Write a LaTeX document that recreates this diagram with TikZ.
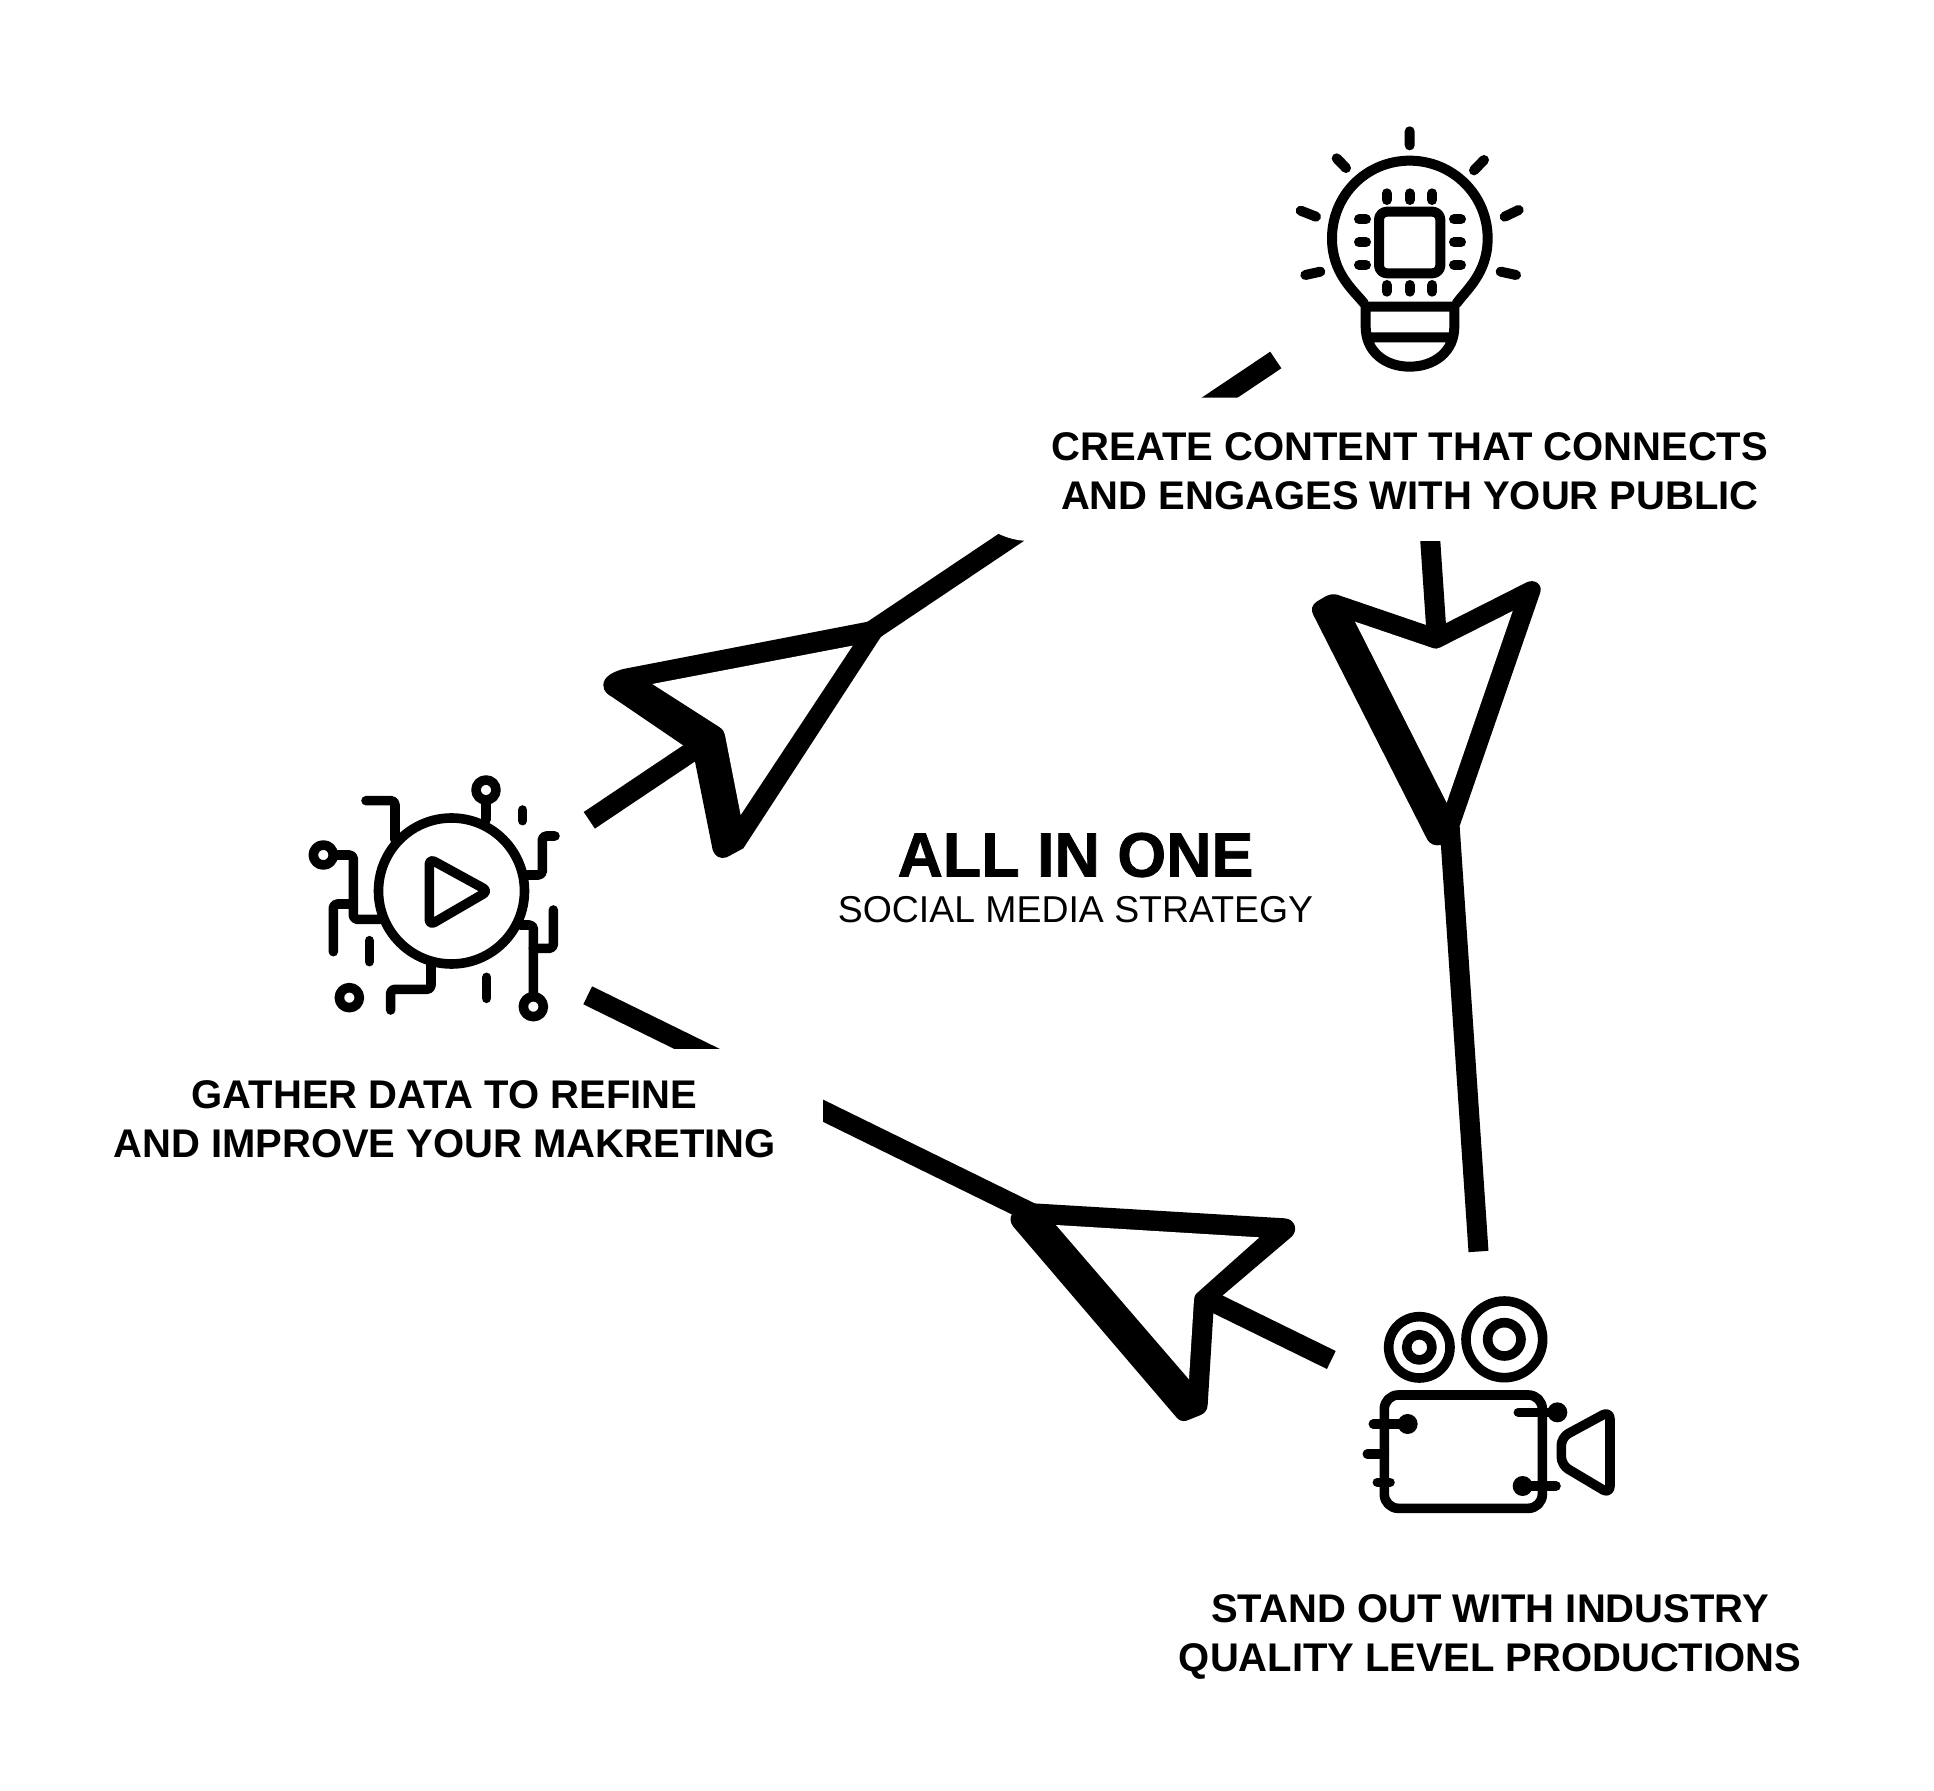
\documentclass[tikz,border=0pt]{standalone}
\usepackage{fontspec}
\setmainfont{Liberation Sans}
\newfontfamily\heavyface[BoldFeatures={FakeBold=1.2}]{Liberation Sans}
\begin{document}
\begin{tikzpicture}[x=0.5pt,y=-0.5pt,
  shaft/.style={line width=10pt,line cap=butt},
  zoomed/.style={shift={#1},scale=1/3},
  icon/.style={line width=4.8pt,line cap=round,line join=round},
  caption/.style={inner sep=0pt,align=center,
     font=\fontsize{20}{24.6}\selectfont\bfseries}]
\useasboundingbox[fill=white] (0,0) rectangle (1934,1791);
% connector ends
\coordinate (dataStart) at (589.3,820.3);
\coordinate (contentEnd) at (1275.8,360);
\coordinate (contentStart) at (1427.5,500);
\coordinate (productionEnd) at (1478.5,1251.5);
\coordinate (productionStart) at (1331.3,1360);
\coordinate (dataEnd) at (587.7,995.3);
% shafts
\draw[shaft] (dataStart) -- (contentEnd);
\draw[shaft] (contentStart) -- (productionEnd);
\draw[shaft] (productionStart) -- (dataEnd);
% arrow head 1
\begin{scope}[zoomed={(580,520)}]
\fill (864,305) -- (130,447) .. controls (100,455) and (70,470) .. (70,495)
  .. controls (70,515) and (85,525) .. (95,530) -- (330,690) -- (345,725) -- (398,990)
  .. controls (405,1010) and (420,1018) .. (440,1012) -- (490,985) -- (905,347) -- cycle;
\fill[white] (818,377) -- (217,492) -- (420,622) .. controls (430,630) and (433,635) .. (435,645) -- (482,885) -- cycle;
\end{scope}
% arrow head 2
\begin{scope}[zoomed={(1290,530)}]
\fill (408,285) -- (150,197) .. controls (130,188) and (115,195) .. (105,200) -- (80,215)
  .. controls (65,225) and (62,240) .. (70,255) -- (410,925) .. controls (420,945) and (435,948) .. (455,945)
  -- (510,885) -- (750,190) .. controls (760,165) and (735,145) .. (710,157) -- (467,280) -- (437,300) -- cycle;
\fill[white] (195,275) -- (430,355) .. controls (437,357) and (443,356) .. (450,353) -- (668,243) -- (470,818) -- cycle;
\end{scope}
% arrow head 3
\begin{scope}[zoomed={(990,1180)}]
\fill (130,70) -- (885,115) .. controls (915,118) and (925,150) .. (905,170) -- (697,347)
  -- (670,400) -- (653,675) .. controls (652,690) and (645,700) .. (630,706) -- (595,720)
  .. controls (575,728) and (565,720) .. (555,707) -- (70,140) .. controls (60,128) and (58,110) .. (68,100) -- cycle;
\fill[white] (198,135) -- (808,172) -- (625,335) .. controls (615,342) and (612,350) .. (612,358) -- (597,598) -- cycle;
\end{scope}
% white panels behind the captions interrupt the connectors
\fill[white,rounded corners=36pt] (958,397.7) rectangle (1860,541);
\fill[white] (66,1048.7) rectangle (823.3,1190);
% captions
\node[caption] (content) at (1410,471.5)
  {CREATE CONTENT THAT CONNECTS\\AND ENGAGES WITH YOUR PUBLIC};
\node[caption] (data) at (444.6,1119.5)
  {GATHER DATA TO REFINE\\AND IMPROVE YOUR MAKRETING};
\node[caption] (production) at (1490,1637)
  {STAND OUT WITH INDUSTRY\\QUALITY LEVEL PRODUCTIONS};
\node[inner sep=0pt,font=\fontsize{31.4}{32}\selectfont\heavyface\bfseries] (title) at (1075.5,855) {ALL IN ONE};
\node[inner sep=0pt,font=\fontsize{18.7}{22}\selectfont] (subtitle) at (1075.5,910) {SOCIAL MEDIA STRATEGY};
% bulb icon
\begin{scope}[zoomed={(1260,110)},icon,line width=5pt]
\draw (312,580) .. controls (280,540) and (216,490) .. (216,385) .. controls (216,255) and (320,152) .. (449,152)
  .. controls (578,152) and (683,255) .. (683,385) .. controls (683,490) and (618,540) .. (590,580);
\draw (317,590) -- (583,590) (317,590) -- (317,650) .. controls (317,725) and (375,770) .. (449,770)
  .. controls (523,770) and (583,725) .. (583,650) -- (583,590) (330,682) -- (570,682);
\draw[rounded corners=4pt] (357,305) rectangle (541,490);
\foreach \u in {380,449,517} {\draw (\u,250) -- (\u,270); \draw (\u,525) -- (\u,545);}
\foreach \v in {328,397,465} {\draw (297,\v) -- (318,\v); \draw (582,\v) -- (603,\v);}
\draw (449,64) -- (449,106) (230,145) -- (258,174) (672,150) -- (642,181) (122,302) -- (168,320)
  (776,300) -- (734,320) (136,495) -- (181,485) (722,485) -- (768,495);
\end{scope}
% play icon
\begin{scope}[zoomed={(290,760)},icon]
\draw (484.5,393) circle[radius=219];
\draw[rounded corners=3pt] (418,296) -- (595,393) -- (418,496) -- cycle;
\draw (588,90) circle[radius=30] (588,120) -- (588,180);
\draw[rounded corners=2pt] (228,122) -- (315,122) -- (315,240);
\draw (100,285) circle[radius=30];
\draw[rounded corners=2pt] (130,285) -- (190,285) -- (190,478) -- (270,478);
\draw[rounded corners=2pt] (130,575) -- (130,432) -- (190,432);
\draw (238,542) -- (238,605);
\draw (178,713) circle[radius=30];
\draw[rounded corners=2pt] (302,750) -- (302,688) -- (423,688) -- (423,610);
\draw (590,652) -- (590,715);
\draw (730,740) circle[radius=30];
\draw[rounded corners=2pt] (730,710) -- (730,495) -- (690,495);
\draw[rounded corners=2pt] (790,450) -- (790,565) -- (730,565);
\draw[rounded corners=2pt] (710,345) -- (757,345) -- (757,228) -- (795,228);
\draw (698,150) -- (698,182);
\end{scope}
% camera icon
\begin{scope}[zoomed={(1340,1280)},icon]
\draw (238,202) circle[radius=92] (238,202) circle[radius=38];
\draw (493,178) circle[radius=115] (493,178) circle[radius=50];
\draw[rounded corners=7pt] (133,345) rectangle (607,685);
\draw (100,432) -- (205,432) (82,522) -- (133,522) (112,607) -- (150,607)
  (535,397) -- (650,397) (548,618) -- (648,618);
\fill (203,432) circle[radius=30] (652,397) circle[radius=30] (548,618) circle[radius=30];
\draw[rounded corners=4pt] (664,472) -- (810,393) -- (810,642) -- (664,555) -- cycle;
\end{scope}
\end{tikzpicture}
\end{document}
